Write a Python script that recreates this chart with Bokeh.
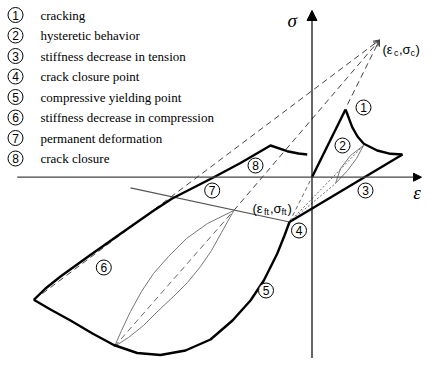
from bokeh.plotting import figure
from bokeh.models import Range1d, Arrow, NormalHead, OpenHead
from bokeh.core.properties import value
from bokeh.embed import file_html
from bokeh.resources import INLINE

# ---------------- data (strain eps, stress sig; schematic units) ----------------
# compression envelope / reloading branch (upper thick curve, ends in crack closure 8)
upper_eps = [-2.782, -2.665, -2.515, -2.248, -1.915, -1.582, -1.398, -0.982, -0.715, -0.415, -0.248, -0.135, -0.048]
upper_sig = [-1.226, -1.113, -0.993, -0.800, -0.566, -0.333, -0.213, 0.000, 0.142, 0.317, 0.260, 0.237, 0.227]
# compressive branch (lower thick curve, 5 -> 6)
lower_eps = [-2.782, -2.615, -2.415, -2.195, -1.982, -1.748, -1.515, -1.265, -1.015, -0.795, -0.615, -0.482, -0.348, -0.275, -0.225]
lower_sig = [-1.226, -1.323, -1.433, -1.563, -1.678, -1.758, -1.778, -1.733, -1.623, -1.433, -1.233, -1.033, -0.766, -0.583, -0.448]
# tension: elastic rise to cracking point
rise_eps = [0.0, 0.335]
rise_sig = [0.0, 0.677]
# cracking / softening curve (1)
crack_eps = [0.335, 0.352, 0.402, 0.455, 0.518, 0.652, 0.785, 0.905]
crack_sig = [0.677, 0.634, 0.500, 0.407, 0.334, 0.267, 0.234, 0.227]
# stiffness decrease in tension (3): from end of softening to crack closure point (4)
tens_eps = [0.905, -0.225]
tens_sig = [0.227, -0.448]
# permanent deformation line (7)
perm_eps = [-1.815, -0.225]
perm_sig = [-0.106, -0.448]
# compressive hysteresis loop (lens)
loopL_eps = [-1.975, -1.905, -1.815, -1.705, -1.585, -1.435, -1.255, -1.045, -0.782]
loopL_sig = [-1.693, -1.533, -1.343, -1.143, -0.963, -0.793, -0.613, -0.463, -0.333]
loopR_eps = [-1.975, -1.835, -1.685, -1.535, -1.385, -1.245, -1.115, -1.005, -0.905, -0.782]
loopR_sig = [-1.693, -1.603, -1.483, -1.333, -1.193, -1.053, -0.893, -0.733, -0.553, -0.333]
loopM_eps = [-1.975, -0.782]
loopM_sig = [-1.693, -0.333]
# tensile hysteresis loop (2)
t_loopL_eps = [0.235, 0.285, 0.385, 0.515]
t_loopL_sig = [-0.063, 0.087, 0.217, 0.317]
t_loopR_eps = [0.235, 0.355, 0.445, 0.515]
t_loopR_sig = [-0.063, 0.067, 0.187, 0.317]
# focal point (eps_c, sig_c) and dashed rays towards it
focal = (0.675, 1.372)
ray_start_eps = [-2.695, -0.782, 0.355]
ray_start_sig = [-1.163, -0.333, 0.727]
# dotted rays from crack closure point (4)
pt4 = (-0.225, -0.448)
dot_end_eps = [0.235, 0.515]
dot_end_sig = [-0.063, 0.317]
# axes extents
axis_eps = (-2.948, 1.095)
axis_sig = (-1.82, 1.667)

legend_texts = ["cracking", "hysteretic behavior", "stiffness decrease in tension",
                "crack closure point", "compressive yielding point",
                "stiffness decrease in compression", "permanent deformation", "crack closure"]
mark_labels = ["1", "2", "3", "4", "5", "6", "7", "8"]
mark_eps = [0.515, 0.305, 0.535, -0.13, -0.46, -2.082, -0.998, -0.565]
mark_sig = [0.697, 0.317, -0.133, -0.533, -1.133, -0.903, -0.133, 0.117]

# ---------------- figure ----------------
p = figure(width=423, height=358, output_backend="svg", toolbar_location=None,
           x_range=Range1d(-3.115, 1.115), y_range=Range1d(-1.813, 1.767),
           min_border=0)
p.axis.visible = False
p.grid.visible = False
p.outline_line_color = None
p.background_fill_color = "white"

SERIF = value("Liberation Serif")
SANS = value("Liberation Sans")

# axes with arrows
p.add_layout(Arrow(x_start=0, y_start=axis_sig[0], x_end=0, y_end=axis_sig[1], line_width=1.2,
                   end=NormalHead(size=10, fill_color="black", line_color="black")))
p.add_layout(Arrow(x_start=axis_eps[0], y_start=0, x_end=axis_eps[1], y_end=0, line_width=1.2,
                   line_color="#444444",
                   end=NormalHead(size=8, fill_color="black", line_color="black")))

# dashed rays to focal point
for xs, ys in zip(ray_start_eps, ray_start_sig):
    p.line([xs, focal[0]], [ys, focal[1]], line_color="#444444", line_width=1, line_dash="6 4")
    dx, dy = focal[0] - xs, focal[1] - ys
    p.add_layout(Arrow(x_start=focal[0] - 0.05 * dx, y_start=focal[1] - 0.05 * dy,
                       x_end=focal[0], y_end=focal[1], line_alpha=0,
                       end=OpenHead(size=6, line_color="#444444", line_width=1)))

# dotted / dashed rays from point 4
for xe, ye in zip(dot_end_eps, dot_end_sig):
    p.line([pt4[0], xe], [pt4[1], ye], line_color="#666666", line_width=1, line_dash="2 2")
p.line([pt4[0], 0.0], [pt4[1], 0.0], line_color="#666666", line_width=1, line_dash="4 3")

# thin lines
p.line(perm_eps, perm_sig, line_color="#555555", line_width=1.2)
p.line(loopL_eps, loopL_sig, line_color="#777777", line_width=1, line_join="round")
p.line(loopR_eps, loopR_sig, line_color="#777777", line_width=1, line_join="round")
p.line(loopM_eps, loopM_sig, line_color="#666666", line_width=1, line_dash="6 4")
p.line(t_loopL_eps, t_loopL_sig, line_color="#777777", line_width=1)
p.line(t_loopR_eps, t_loopR_sig, line_color="#777777", line_width=1)

# thick curves
for xs, ys in [(upper_eps, upper_sig), (lower_eps, lower_sig), (rise_eps, rise_sig),
               (crack_eps, crack_sig), (tens_eps, tens_sig)]:
    p.line(xs, ys, line_color="black", line_width=2.4, line_join="round")

# circled markers in chart
p.scatter(mark_eps, mark_sig, marker="circle", size=15, fill_color="white",
          line_color="black", line_width=1)
p.text(mark_eps, mark_sig, text=mark_labels, text_font=SANS, text_font_size="12px",
       text_align="center", text_baseline="middle", text_color="black")

# legend
leg_top = 1.622
leg_step = 0.205
leg_sig = [leg_top - i * leg_step for i in range(len(legend_texts))]
p.scatter([-2.965] * 8, leg_sig, marker="circle", size=15, fill_color="white",
          line_color="black", line_width=1)
p.text([-2.965] * 8, leg_sig, text=mark_labels, text_font=SANS, text_font_size="12px",
       text_align="center", text_baseline="middle", text_color="black")
p.text([-2.715] * 8, leg_sig, text=legend_texts, text_font=SERIF, text_font_size="13px",
       text_align="left", text_baseline="middle", text_color="black")

# axis labels
p.text([-0.198], [1.567], text=["σ"], text_font=SERIF, text_font_style="italic",
       text_font_size="19px", text_align="center", text_baseline="middle")
p.text([1.05], [-0.153], text=["ε"], text_font=SERIF, text_font_style="italic",
       text_font_size="19px", text_align="center", text_baseline="middle")

# compound labels with subscripts
def compound(x, y, parts):
    off = 0.0
    for s, sub, w in parts:
        p.text([x], [y], text=[s], x_offset=off, y_offset=(3 if sub else 0),
               text_font=SANS, text_font_size=("9px" if sub else "13px"),
               text_align="left", text_baseline="middle", text_color="black")
        off += w

compound(0.705, 1.277, [("(ε", False, 11.5), ("c", True, 5), (",σ", False, 11.5), ("c", True, 5), (")", False, 5)])
compound(-0.595, -0.313, [("(ε", False, 11.5), ("ft", True, 6), (",σ", False, 11.5), ("ft", True, 6), (")", False, 5)])

open("out.html", "w").write(file_html(p, INLINE))
